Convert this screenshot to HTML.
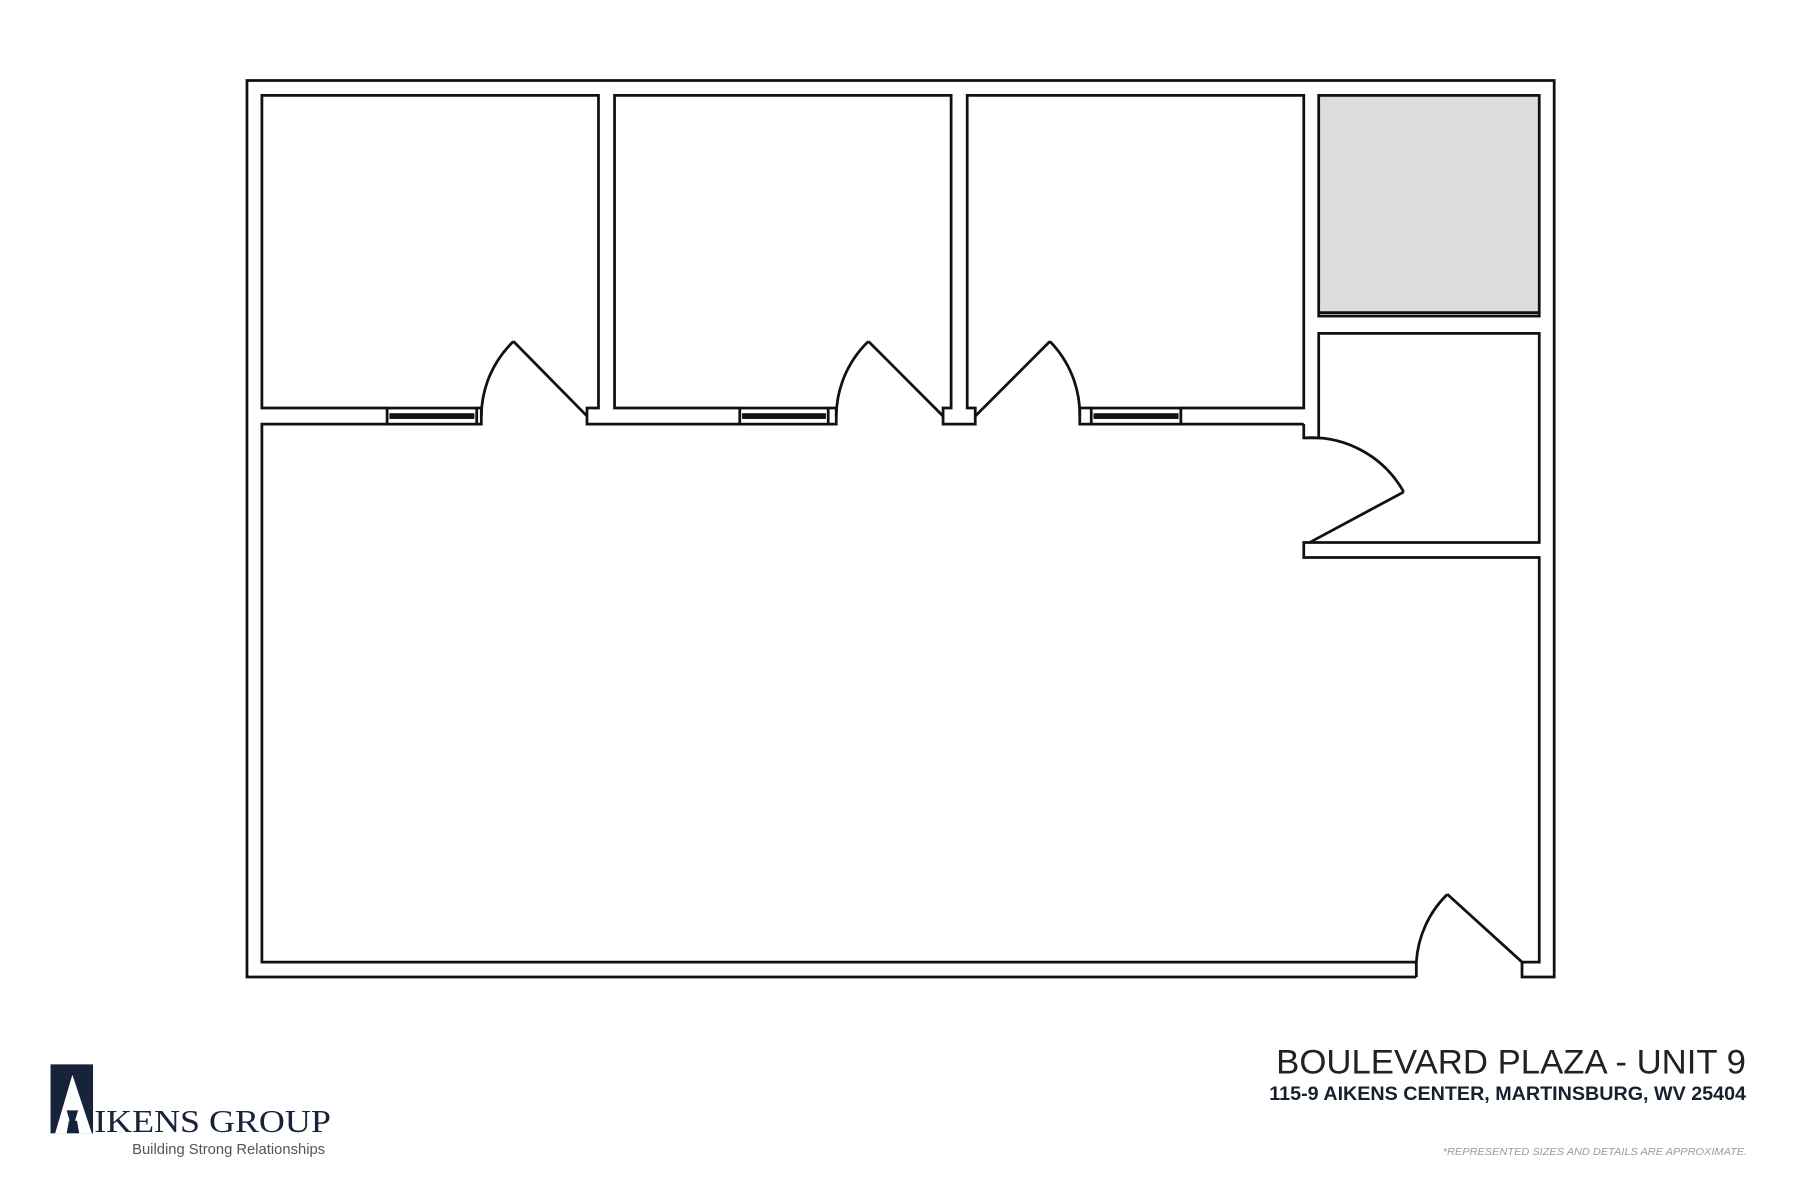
<!DOCTYPE html>
<html><head><meta charset="utf-8"><style>
html,body{margin:0;padding:0;background:#fff;}
svg{display:block;}
</style></head><body>
<svg width="1800" height="1200" viewBox="0 0 1567 1044" preserveAspectRatio="none" xmlns="http://www.w3.org/2000/svg">
<rect width="1567" height="1044" fill="#fff"/>
<g fill="none" stroke="#111" stroke-width="2.4" stroke-linejoin="miter">
<polyline points="1233,850 215,850 215,70 1353,70 1353,850 1325,850 1325,837 1340,837 1340,485 1135,485 1135,472 1340,472 1340,290 1148,290 1148,381 1135,381 1135,369"/>
<polyline points="1233,850 1233,837 228,837 228,369 337,369"/>
<rect x="1148" y="83" width="192" height="192" fill="#dcdcdc"/>
<line x1="1148" y1="272" x2="1340" y2="272"/>
<polyline points="337,355 228,355 228,83 521,83 521,355 511,355 511,369 643,369"/>
<polyline points="643,355 535,355 535,83 828,83 828,355 821,355 821,369 849,369 849,355 842,355 842,83 1135,83 1135,355 1028,355"/>
<line x1="1028" y1="369" x2="1135" y2="369"/>
<polyline points="415,355 419,355 419,369 415,369"/>
<polyline points="721,355 728,355 728,369 721,369"/>
<polyline points="950,355 940,355 940,369 950,369"/>
<rect x="337" y="355" width="78" height="14" fill="#fff"/>
<rect x="644" y="355" width="77" height="14" fill="#fff"/>
<rect x="950" y="355" width="78" height="14" fill="#fff"/>
<polyline points="511,362 447,297"/>
<path d="M447,297 A91,91 0 0 0 419,362"/>
<polyline points="821,362 756,297"/>
<path d="M756,297 A91,91 0 0 0 728,362"/>
<polyline points="849,362 914,297"/>
<path d="M914,297 A91,91 0 0 1 940,362"/>
<polyline points="1140,472 1222,428"/>
<path d="M1222,428 A92,92 0 0 0 1135,381"/>
<polyline points="1325,837 1260,778"/>
<path d="M1260,778 A90,90 0 0 0 1233,837"/>
</g>
<g fill="#111">
<rect x="339" y="359.5" width="74" height="5"/>
<rect x="646" y="359.5" width="73" height="5"/>
<rect x="952" y="359.5" width="74" height="5"/>
</g>
<text x="1520" y="934" text-anchor="end" font-family="Liberation Sans, sans-serif" font-size="30" fill="#222" textLength="409" lengthAdjust="spacingAndGlyphs" style="font-weight:300">BOULEVARD PLAZA - UNIT 9</text>
<text x="1520" y="957" text-anchor="end" font-family="Liberation Sans, sans-serif" font-size="17" font-weight="bold" fill="#16202e" textLength="415" lengthAdjust="spacingAndGlyphs">115-9 AIKENS CENTER, MARTINSBURG, WV 25404</text>
<text x="1521" y="1005" text-anchor="end" font-family="Liberation Sans, sans-serif" font-size="9" font-style="italic" fill="#9a9a9a" textLength="265" lengthAdjust="spacingAndGlyphs">*REPRESENTED SIZES AND DETAILS ARE APPROXIMATE.</text>
<rect x="44" y="926" width="37" height="60" fill="#17233a"/>
<polygon points="63,935 48,986 58,986 60,975 67,975 69,986 80,986" fill="#fff"/>
<polygon points="58,966 68,966 63,983" fill="#17233a"/>
<text x="82" y="985" font-family="Liberation Serif, serif" font-size="28" fill="#17233a" textLength="206" lengthAdjust="spacingAndGlyphs">IKENS GROUP</text>
<text x="115" y="1004" font-family="Liberation Sans, sans-serif" font-size="13" fill="#555" textLength="168" lengthAdjust="spacingAndGlyphs">Building Strong Relationships</text>
</svg>
</body></html>
